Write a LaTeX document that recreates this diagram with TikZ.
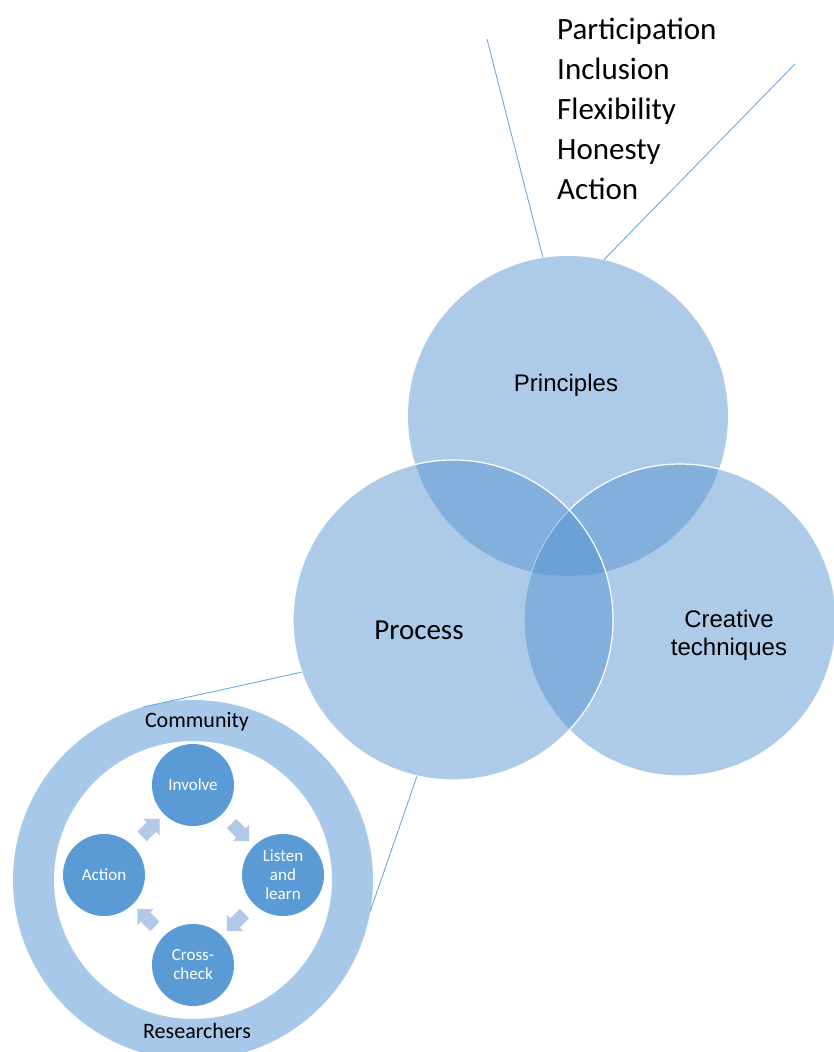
\documentclass[tikz,border=0pt]{standalone}
\usepackage{fontspec}
\setmainfont{Carlito}
\newfontfamily\arialfont{Liberation Sans}
\usetikzlibrary{shapes.arrows,calc}

\definecolor{vennblue}{RGB}{83,146,207}
\definecolor{ringblue}{RGB}{167,200,232}
\definecolor{stageblue}{RGB}{91,155,213}
\definecolor{arrowblue}{RGB}{178,202,232}
\definecolor{linkblue}{RGB}{110,168,222}

\tikzset{
  venn/.style={circle, fill=vennblue, fill opacity=0.48, draw=white, line width=1.2pt, minimum size=320pt, inner sep=0pt},
  stage/.style={circle, fill=stageblue, minimum size=82pt, inner sep=0pt, text=white, align=center, font=\fontsize{17}{19}\selectfont},
  cyclearrow/.style={single arrow, fill=arrowblue, minimum height=25pt, inner sep=6.5pt, single arrow head extend=5pt},
  link/.style={draw=linkblue, line width=0.9pt},
}

\begin{document}
\begin{tikzpicture}[x=1pt,y=1pt]
    \useasboundingbox (0,0) rectangle (834,-1052);
        % the three circles
        \node[venn, draw=none] (principles) at (568,-416) {};
        \node[venn, minimum size=312pt] (creative) at (680,-620) {};
        \node[venn] (process) at (453,-620) {};
        \node[font=\arialfont\fontsize{24}{28}\selectfont] (principlestext) at (566,-385) {Principles};
        \node[font=\fontsize{29}{34}\selectfont] (processtext) at (419,-630) {Process};
        \node[font=\arialfont\fontsize{24}{28}\selectfont, align=center] (creativetext) at (729,-635) {Creative\\techniques};
        % values of the principles
        \foreach \val [count=\i] in {Participation,Inclusion,Flexibility,Honesty,Action}
            \node[font=\fontsize{31}{40}\selectfont, anchor=base west, inner sep=0pt] (value\i) at (557,{-39-40*(\i-1)}) {\val};
        \coordinate (leftend) at (487,-39);
        \coordinate (rightend) at (795,-64);
        \draw[link] (principles.99) -- (leftend);
        \draw[link] (principles.77) -- (rightend);
        % the process cycle
        \node[circle, draw=ringblue, line width=41pt, minimum size=319pt, inner sep=0pt] (ring) at (193,-880) {};
        \node[font=\fontsize{22}{26}\selectfont] (community) at (197,-722) {Community};
        \node[font=\fontsize{22}{26}\selectfont] (researchers) at (197,-1031) {Researchers};
        \node[stage] (involve) at (193,-785) {Involve};
        \node[stage] (listen) at (283,-875) {Listen\\and\\learn};
        \node[stage] (cross) at (193,-965) {Cross-\\check};
        \node[stage] (action) at (104,-875) {Action};
        \node[cyclearrow, rotate=-45] (arrowa) at ($(involve)!0.5!(listen)$) {};
        \node[cyclearrow, rotate=-135] (arrowb) at ($(listen)!0.5!(cross)$) {};
        \node[cyclearrow, rotate=135] (arrowc) at ($(cross)!0.5!(action)$) {};
        \node[cyclearrow, rotate=45] (arrowd) at ($(action)!0.5!(involve)$) {};
        \draw[link] (process.199) -- (ring.106);
        \draw[link] (process.257) -- (ring.-10);
    \end{tikzpicture}
\end{document}
